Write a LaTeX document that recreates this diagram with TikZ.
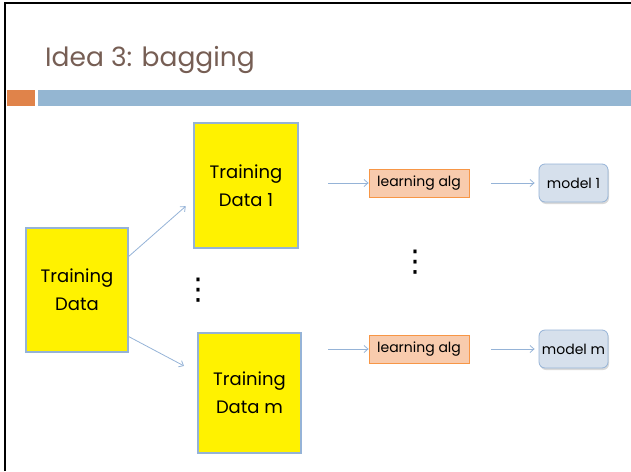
\documentclass[tikz,border=0pt]{standalone}
\usepackage{fontspec}
\setmainfont{Poppins}
\newfontfamily\dotsfont{DejaVu Sans}
\usetikzlibrary{arrows.meta, positioning, calc, shadows}
\definecolor{cTitle}{RGB}{118,94,84}
\definecolor{cOrange}{RGB}{224,131,74}
\definecolor{cBar}{RGB}{148,182,210}
\definecolor{cEdge}{RGB}{149,179,215}
\definecolor{cPeach}{RGB}{248,203,173}
\definecolor{cAlgEdge}{RGB}{247,150,70}
\definecolor{cModel}{RGB}{214,224,236}
\tikzset{
	databox/.style={rectangle, draw=cEdge, line width=1.5pt, fill=yellow, align=center, inner sep=2pt, font=\fontsize{18}{28}\selectfont},
	algbox/.style={rectangle, draw=cAlgEdge, line width=0.8pt, fill=cPeach, minimum width=100pt, minimum height=28pt, inner sep=1pt, font=\fontsize{14}{16}\selectfont},
	modelbox/.style={rectangle, rounded corners=6pt, draw=cEdge, line width=0.8pt, fill=cModel, minimum width=69pt, minimum height=38pt, inner sep=1pt, font=\fontsize{14}{16}\selectfont, drop shadow={opacity=0.3, shadow xshift=1pt, shadow yshift=-2pt}},
	link/.style={-{Straight Barb[length=4pt, width=7pt]}, draw=cEdge, line width=0.8pt},
	% vertical ellipsis
	moredots/.style={inner sep=0pt, font=\dotsfont\fontsize{30}{30}\selectfont},
}
\begin{document}
\begin{tikzpicture}[x=1pt, y=-1pt]
	\useasboundingbox (0,0) rectangle (631,471);
	% slide frame, title and header bars
	\draw[line width=2pt] (5,471) -- (5,3) -- (631,3);
	\node[anchor=base west, inner sep=0pt, text=cTitle, font=\fontsize{26.5}{32}\selectfont] (title) at (45,66) {Idea 3: bagging};
	\fill[cOrange] (7,90) rectangle (35,106);
	\fill[cBar] (38,90) rectangle (631,106);

	% the data sets
	\node[databox, minimum width=102pt, minimum height=124pt] (data) at (77,290) {Training\\Data};
	\node[databox, minimum width=104pt, minimum height=125pt] (data1) at (246,185.5) {Training\\Data 1};
	\node[databox, minimum width=103pt, minimum height=120pt] (datam) at (249.5,393) {Training\\Data m};
	\node[moredots] (dotsL) at (198,290.5) {⋮};

	\draw[link, shorten >=10pt] (data.33) -- (data1.195);
	\draw[link, shorten >=15pt] (data.-42) -- (datam.159);

	% one learner and one model per data set
	\foreach \i/\y in {1/183, m/349} {
		\node[algbox] (alg\i) at (419,\y) {learning alg};
		\node[modelbox] (model\i) at (573.5,\y) {model \i};
		\coordinate (in\i) at (328,\y);
		\draw[link] (in\i) -- (alg\i.west);
		\draw[link, shorten <=22pt, shorten >=4pt] (alg\i.east) -- (model\i.west);
	}
	\node[moredots] (dotsR) at (415,262.5) {⋮};
\end{tikzpicture}
\end{document}
